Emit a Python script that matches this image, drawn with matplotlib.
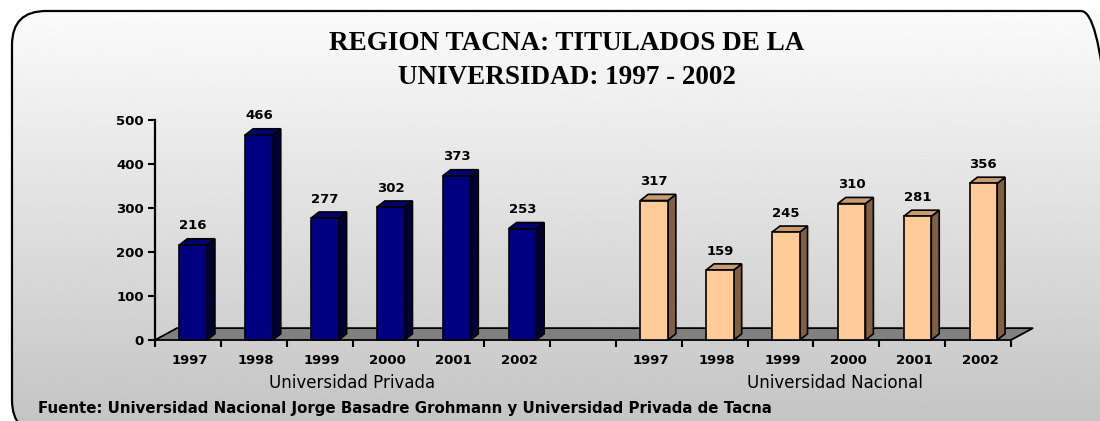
import matplotlib
matplotlib.use("Agg")
import matplotlib.pyplot as plt
import numpy as np
from matplotlib.patches import Polygon, Rectangle, FancyBboxPatch

# ---------------- data ----------------
years = ["1997", "1998", "1999", "2000", "2001", "2002"]
privada = [216, 466, 277, 302, 373, 253]
nacional = [317, 159, 245, 310, 281, 356]
group_labels = ["Universidad Privada", "Universidad Nacional"]
title_lines = ["REGION TACNA: TITULADOS DE LA", "UNIVERSIDAD: 1997 - 2002"]
source = "Fuente: Universidad Nacional Jorge Basadre Grohmann y Universidad Privada de Tacna"
yticks = [0, 100, 200, 300, 400, 500]

W, H = 1100, 421
fig = plt.figure(figsize=(W / 100, H / 100), dpi=100)
fig.patch.set_facecolor("white")

# ---------------- background panel (pixel coords, y measured from bottom) ----------------
bg = fig.add_axes([0, 0, 1, 1])
bg.axis("off")
px0, px1 = 12, 1115
py_top, py_bot = H - 11, H - 434
panel = FancyBboxPatch((px0, py_bot), px1 - px0, py_top - py_bot,
                       boxstyle="round,pad=0,rounding_size=34",
                       facecolor="none", edgecolor="black", linewidth=1.6, zorder=3)
grad = np.linspace(0.99, 0.77, 256).reshape(-1, 1)
im = bg.imshow(grad, cmap="gray", vmin=0, vmax=1,
               extent=[px0, px1, 0, H], origin="upper", aspect="auto", zorder=1)
bg.add_patch(panel)
im.set_clip_path(panel)
bg.set_xlim(0, W)
bg.set_ylim(0, H)

def ty(ypx):
    return H - ypx

# title
for i, line in enumerate(title_lines):
    bg.text(567, ty(44 + 34 * i), line, ha="center", va="center", fontsize=19.5,
            fontweight="bold", family="Liberation Serif", color="black", zorder=4)
bg.text(38, ty(408), source, ha="left", va="center", fontsize=10.8, fontweight="bold",
        family="DejaVu Sans", color="black", zorder=4)

# ---------------- chart axes ----------------
ax = fig.add_axes([155 / W, (H - 340) / H, (1011 - 155) / W, 220 / H])
ax.set_xlim(0, 13)
ax.set_ylim(0, 500)
ax.patch.set_alpha(0)
for s in ["top", "right", "bottom"]:
    ax.spines[s].set_visible(False)
ax.spines["left"].set_linewidth(1.6)

ax.set_yticks(yticks)
ax.set_yticklabels([str(t) for t in yticks], fontsize=9.5, fontweight="bold")
ax.tick_params(axis="y", length=5, width=1.5, pad=3)
ax.set_xticks(np.arange(0, 14))
ax.set_xticklabels([])
ax.tick_params(axis="x", length=5, width=1.5, direction="out")

# floor
fdx, fdy = 0.334, 27
floor = Polygon([(0, 0), (13, 0), (13 + fdx, fdy), (fdx, fdy)], closed=True,
                facecolor="#808080", edgecolor="black", linewidth=1.3, zorder=2,
                clip_on=False)
ax.add_patch(floor)

bw, ddx, ddy = 0.42, 0.12, 14
styles = {
    "priv": dict(front="#000080", top="#000070", side="#000035"),
    "nac": dict(front="#FFCC99", top="#C89C70", side="#806040"),
}

def draw_bar(slot, val, st):
    x0 = slot + 0.37
    side = Polygon([(x0 + bw, 0), (x0 + bw, val), (x0 + bw + ddx, val + ddy),
                    (x0 + bw + ddx, ddy)], closed=True, facecolor=st["side"],
                   edgecolor="black", linewidth=1.2, zorder=3, clip_on=False)
    top = Polygon([(x0, val), (x0 + bw, val), (x0 + bw + ddx, val + ddy),
                   (x0 + ddx, val + ddy)], closed=True, facecolor=st["top"],
                  edgecolor="black", linewidth=1.2, zorder=3, clip_on=False)
    front = Rectangle((x0, 0), bw, val, facecolor=st["front"], edgecolor="black",
                      linewidth=1.2, zorder=4, clip_on=False)
    for p in (side, top, front):
        ax.add_patch(p)
    ax.annotate(str(val), (x0 + bw / 2, val), xytext=(0, 9), textcoords="offset points",
                ha="center", va="bottom", fontsize=9.5, fontweight="bold", zorder=5,
                annotation_clip=False)

for i, v in enumerate(privada):
    draw_bar(i, v, styles["priv"])
for i, v in enumerate(nacional):
    draw_bar(7 + i, v, styles["nac"])

# year labels
for i, yl in enumerate(years):
    for start in (0, 7):
        ax.text(start + i + 0.53, -46, yl, ha="center", va="center", fontsize=9.5,
                fontweight="bold", clip_on=False)

ax.text(3.0, -97, group_labels[0], ha="center", va="center", fontsize=12, clip_on=False)
ax.text(10.33, -97, group_labels[1], ha="center", va="center", fontsize=12, clip_on=False)

fig.savefig("out.png", dpi=100)
